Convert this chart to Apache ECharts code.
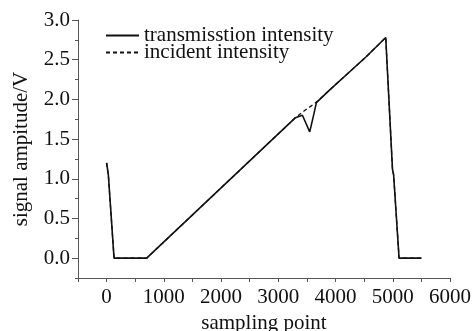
<!DOCTYPE html>
<html>
<head>
<meta charset="utf-8">
<script src="https://cdn.jsdelivr.net/npm/echarts@6/dist/echarts.min.js"></script>
<style>
  html, body { margin: 0; padding: 0; background: #fff; }
  #chart { width: 474px; height: 331px; }
</style>
</head>
<body>
<div id="chart"></div>
<script>
// sampling point / amplitude (V)
const transX = [0, 30, 130, 700, 3300, 3421, 3549, 3607, 3666, 3899, 4540, 4877, 4995, 5015, 5110, 5500]
const transY = [1.2, 1.05, 0, 0, 1.77, 1.80, 1.59, 1.77, 1.96, 2.12, 2.54, 2.78, 1.12, 1.05, 0, 0]
const incX = [0, 30, 130, 700, 3300, 3460, 3640, 3899, 4540, 4877, 4995, 5015, 5110, 5500]
const incY = [1.2, 1.05, 0, 0, 1.77, 1.86, 1.95, 2.12, 2.54, 2.78, 1.12, 1.05, 0, 0]
const yMajor = [0, 0.5, 1, 1.5, 2, 2.5, 3]
const yMinor = [-0.25, 0.25, 0.75, 1.25, 1.75, 2.25, 2.75]

const font = 'Liberation Serif'
const ink = '#111'
const axisColor = '#555'

const pairs = (xs, ys) => xs.map((x, i) => [x, ys[i]])

const chart = echarts.init(document.getElementById('chart'))
chart.setOption({
  animation: false,
  textStyle: { fontFamily: font, color: ink },
  legend: {
    orient: 'vertical',
    left: 105,
    top: 25,
    itemWidth: 33,
    itemHeight: 10,
    itemGap: -4,
    padding: 0,
    itemStyle: { opacity: 0 },
    textStyle: { fontFamily: font, fontSize: 21, color: ink },
    data: ['transmisstion intensity', 'incident intensity']
  },
  grid: { left: 78, right: 24, top: 20, bottom: 53, containLabel: false, outerBoundsMode: 'none' },
  xAxis: {
    type: 'value',
    min: -500,
    max: 6000,
    interval: 500,
    name: 'sampling point',
    nameLocation: 'middle',
    nameGap: 31,
    nameTextStyle: { fontFamily: font, fontSize: 21, color: ink },
    axisLine: { show: true, onZero: false, lineStyle: { color: axisColor, width: 1 } },
    axisTick: { show: true, length: 4, lineStyle: { color: axisColor } },
    axisLabel: {
      fontFamily: font, fontSize: 21, color: ink, margin: 9,
      formatter: v => (v >= 0 && v % 1000 === 0 ? String(v) : '')
    },
    splitLine: { show: false }
  },
  yAxis: [{
    type: 'value',
    min: -0.25,
    max: 3,
    name: 'signal ampitude/V',
    nameLocation: 'middle',
    nameGap: 46,
    nameTextStyle: { fontFamily: font, fontSize: 21, color: ink },
    axisLine: { show: true, onZero: false, lineStyle: { color: axisColor, width: 1 } },
    axisTick: { show: true, length: 6, customValues: yMajor, lineStyle: { color: axisColor } },
    axisLabel: {
      fontFamily: font, fontSize: 21, color: ink, margin: 8,
      customValues: yMajor,
      formatter: v => v.toFixed(1)
    },
    splitLine: { show: false }
  }, {
    type: 'value',
    position: 'left',
    min: -0.25,
    max: 3,
    axisLine: { show: false, onZero: false },
    axisTick: { show: true, length: 3, customValues: yMinor, lineStyle: { color: axisColor } },
    axisLabel: { show: false },
    splitLine: { show: false }
  }],
  series: [{
    name: 'incident intensity',
    type: 'line',
    showSymbol: false,
    symbol: 'none',
    lineStyle: { color: ink, width: 1.3, type: [4, 3] },
    itemStyle: { color: ink },
    data: pairs(incX, incY)
  }, {
    name: 'transmisstion intensity',
    type: 'line',
    showSymbol: false,
    symbol: 'none',
    lineStyle: { color: ink, width: 1.6 },
    itemStyle: { color: ink },
    data: pairs(transX, transY)
  }]
})
</script>
</body>
</html>
